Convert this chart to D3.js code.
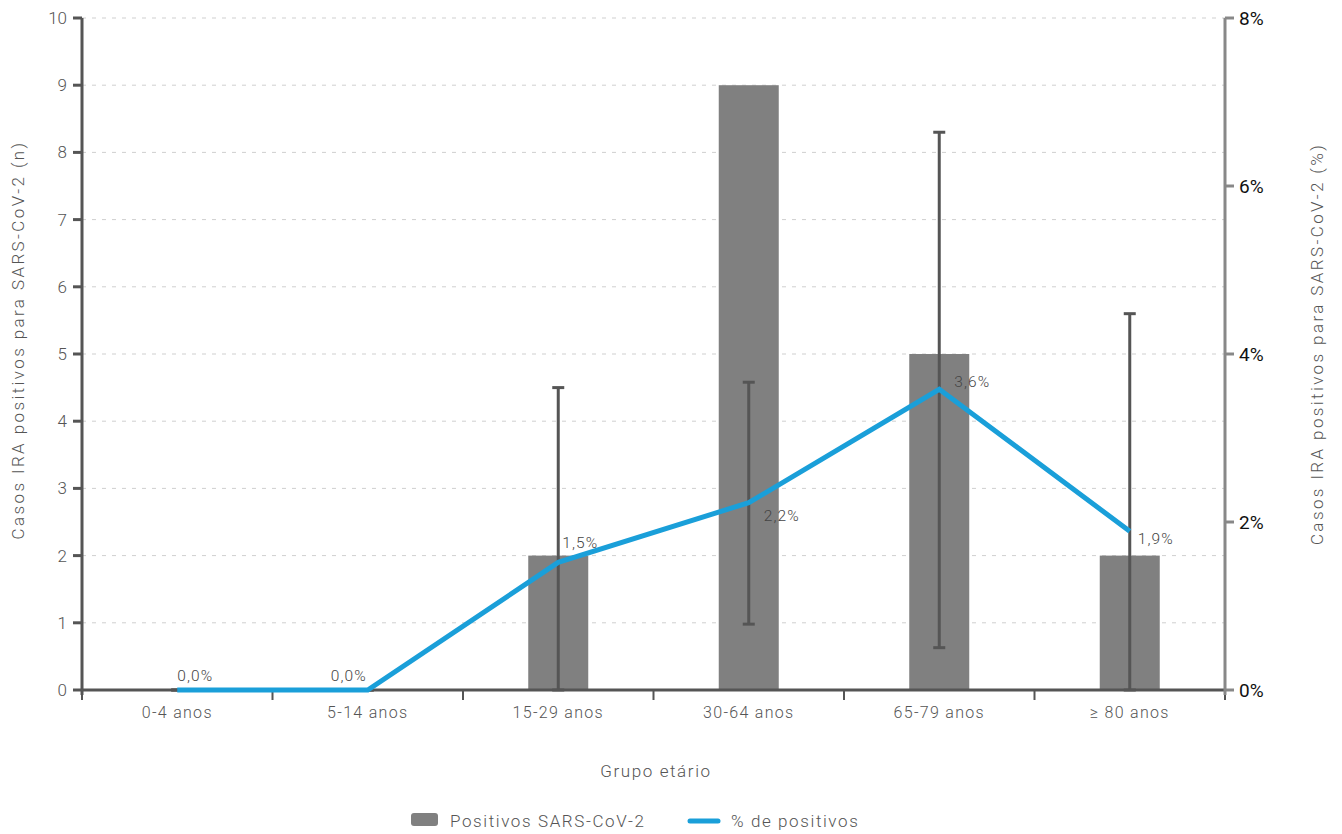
<!DOCTYPE html>
<html><head><meta charset="utf-8">
<script src="https://cdn.jsdelivr.net/npm/d3@7"></script>
<style>
body{margin:0;background:#fff;}
svg text{font-family:Roboto, "Liberation Sans", sans-serif;}
</style></head>
<body><svg id="c" width="1342" height="834"></svg>
<script>
const categories = ["0-4 anos","5-14 anos","15-29 anos","30-64 anos","65-79 anos","≥ 80 anos"];
const positivos = [0,0,2,9,5,2];
const errLow = [0,0,0,0.98,0.63,0];
const errHigh = [0,0,4.5,4.58,8.3,5.6];
const pctPositivos = [0,0,1.52,2.23,3.58,1.89];
const leftTicks = [0,1,2,3,4,5,6,7,8,9,10];
const rightTicks = [0,2,4,6,8];

const svg = d3.select("#c");
const L = 82, R = 1225, T = 18, B = 690;
const x = d3.scaleBand().domain(categories).range([L,R]).padding(0);
const y = d3.scaleLinear().domain([0,10]).range([B,T]);
const y2 = d3.scaleLinear().domain([0,8]).range([B,T]);
const bw = 60;
const txtGray = "#555";

// grid
svg.append("g").selectAll("line").data(leftTicks.filter(d=>d>0)).join("line")
  .attr("x1",L).attr("x2",R).attr("y1",d=>y(d)).attr("y2",d=>y(d))
  .attr("stroke","#cfcfcf").attr("stroke-width",1).attr("stroke-dasharray","4,6");

// bars
svg.append("g").selectAll("rect").data(categories).join("rect")
  .attr("x",d=>x(d)+x.bandwidth()/2-bw/2).attr("width",bw)
  .attr("y",(d,i)=>y(positivos[i])).attr("height",(d,i)=>y(0)-y(positivos[i]))
  .attr("fill","#808080");

// x axis
const xAxis = svg.append("g").attr("transform",`translate(0,${B})`);
xAxis.append("line").attr("x1",L).attr("x2",R).attr("stroke","#555").attr("stroke-width",3);
xAxis.selectAll("line.t").data(d3.range(categories.length+1)).join("line").attr("class","t")
  .attr("x1",i=>L+i*x.bandwidth()).attr("x2",i=>L+i*x.bandwidth()).attr("y1",0).attr("y2",10)
  .attr("stroke","#555").attr("stroke-width",2);
xAxis.selectAll("text").data(categories).join("text")
  .attr("x",d=>x(d)+x.bandwidth()/2).attr("y",28).attr("text-anchor","middle")
  .attr("font-size",16).attr("font-weight",300).attr("fill",txtGray).attr("letter-spacing","1.3px").text(d=>d);

// error bars
const eb = svg.append("g");
categories.forEach((c,i)=>{
  const cx = x(c)+x.bandwidth()/2;
  eb.append("line").attr("x1",cx).attr("x2",cx).attr("y1",y(errLow[i])).attr("y2",y(errHigh[i]))
    .attr("stroke","#555").attr("stroke-width",3);
  [errLow[i],errHigh[i]].forEach(v=>{
    eb.append("line").attr("x1",cx-6).attr("x2",cx+6).attr("y1",y(v)).attr("y2",y(v))
      .attr("stroke","#555").attr("stroke-width",3);
  });
});

// left axis
const la = svg.append("g").attr("transform",`translate(${L},0)`);
la.append("line").attr("y1",T).attr("y2",B+5).attr("stroke","#555").attr("stroke-width",3);
la.selectAll("line.t").data(leftTicks).join("line").attr("class","t")
  .attr("x1",-9).attr("x2",0).attr("y1",d=>y(d)).attr("y2",d=>y(d)).attr("stroke","#555").attr("stroke-width",3);
la.selectAll("text").data(leftTicks).join("text")
  .attr("x",-15).attr("y",d=>y(d)+6).attr("text-anchor","end")
  .attr("font-size",17).attr("font-weight",300).attr("fill",txtGray).text(d=>d);

// right axis
const ra = svg.append("g").attr("transform",`translate(${R},0)`);
ra.append("line").attr("y1",T).attr("y2",B+5).attr("stroke","#888").attr("stroke-width",3);
ra.selectAll("line.t").data(rightTicks).join("line").attr("class","t")
  .attr("x1",0).attr("x2",9).attr("y1",d=>y2(d)).attr("y2",d=>y2(d)).attr("stroke","#888").attr("stroke-width",3);
ra.selectAll("text").data(rightTicks).join("text")
  .attr("x",14).attr("y",d=>y2(d)+7).attr("text-anchor","start")
  .attr("font-size",19).attr("fill","#111").text(d=>d+"%");

// line
const line = d3.line().x((d,i)=>x(categories[i])+x.bandwidth()/2).y(d=>y2(d));
svg.append("path").datum(pctPositivos).attr("d",line).attr("fill","none")
  .attr("stroke","#1a9fd9").attr("stroke-width",5).attr("stroke-linejoin","miter");

// line labels
const fmt = v => v.toFixed(1).replace(".",",")+"%";
const lblOff = [[0,-9],[-37,-9],[4,-14],[15,18],[15,-2],[8,13]];
svg.append("g").selectAll("text").data(pctPositivos).join("text")
  .attr("x",(d,i)=>x(categories[i])+x.bandwidth()/2+lblOff[i][0])
  .attr("y",(d,i)=>y2(d)+lblOff[i][1])
  .attr("font-size",15.5).attr("font-weight",300).attr("fill","#444").attr("letter-spacing","1.1px").text(fmt);

// axis titles
const titleStyle = s => s.attr("font-size",17).attr("font-weight",300).attr("fill",txtGray).attr("letter-spacing","1.6px");
svg.append("text").attr("transform",`translate(24,340) rotate(-90)`).attr("text-anchor","middle")
  .call(titleStyle).attr("letter-spacing","2.4px").text("Casos IRA positivos para SARS-CoV-2 (n)");
svg.append("text").attr("transform",`translate(1323,344) rotate(-90)`).attr("text-anchor","middle")
  .call(titleStyle).attr("letter-spacing","2.4px").text("Casos IRA positivos para SARS-CoV-2 (%)");
svg.append("text").attr("x",656).attr("y",777).attr("text-anchor","middle")
  .call(titleStyle).text("Grupo etário");

// legend
const lg = svg.append("g");
lg.append("rect").attr("x",411).attr("y",813).attr("width",27).attr("height",13).attr("rx",3).attr("fill","#808080");
lg.append("text").attr("x",450).attr("y",827).call(titleStyle).text("Positivos SARS-CoV-2");
lg.append("line").attr("x1",690).attr("x2",718).attr("y1",821).attr("y2",821).attr("stroke","#1a9fd9").attr("stroke-width",5).attr("stroke-linecap","round");
lg.append("text").attr("x",731).attr("y",827).call(titleStyle).text("% de positivos");
</script></body></html>
